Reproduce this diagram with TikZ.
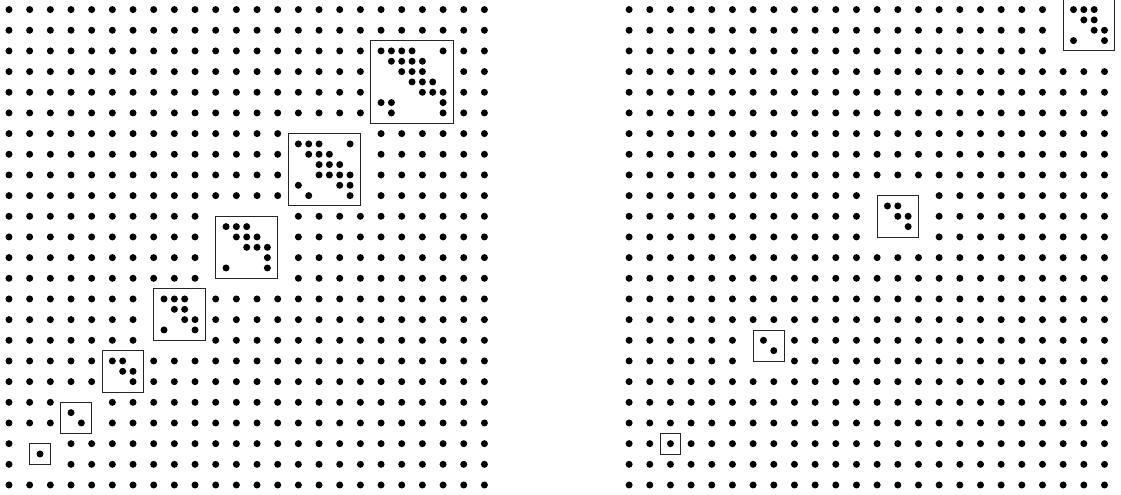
\documentclass[tikz,border=0pt]{standalone}
\usepackage{tikz}
\tikzset{
  griddot/.style={fill=black},
  frame/.style={draw=black!85, line width=0.9pt},
}
\newcommand\leftidx[2]{\pgfmathtruncatemacro#1{(#2>=1)*(#2<=2)*1+(#2>=3)*(#2<=4)*2+(#2>=5)*(#2<=6)*3+(#2>=7)*(#2<=9)*4+(#2>=10)*(#2<=13)*5+(#2>=14)*(#2<=17)*6+(#2>=18)*(#2<=21)*7}}
\newcommand\rightidx[2]{\pgfmathtruncatemacro#1{(#2==2)*1+(#2>=6)*(#2<=7)*2+(#2>=12)*(#2<=14)*3+(#2>=21)*(#2<=23)*4}}
\newcommand\subbox[4]{%
  \draw[frame] (#1,#2) rectangle ++({(#3+1)/2},{(#3+1)/2});
  \foreach \k/\l in {#4} \fill[griddot] ({#1+\k/2},{#2+(#3+1)/2-\l/2}) circle[radius=3.5pt];
}
\begin{document}
\begin{tikzpicture}[x=20.67pt,y=20.67pt]
\useasboundingbox (-0.4354,-0.4838) rectangle (53.798,23.464);
% left grid
\foreach \i in {0,...,23} {
  \foreach \j in {0,...,23} {
    \leftidx\bi\i
    \leftidx\bj\j
    \pgfmathtruncatemacro\skp{(\bi==\bj)*(\bi>0)}
    \ifnum\skp=0 \fill[griddot] (\i,\j) circle[radius=3.5pt];\fi
  }
}
% right grid
\foreach \i in {0,...,23} {
  \foreach \j in {0,...,23} {
    \rightidx\bi\i
    \rightidx\bj\j
    \pgfmathtruncatemacro\skp{(\bi==\bj)*(\bi>0)}
    \ifnum\skp=0 \fill[griddot] ({\i+30},\j) circle[radius=3.5pt];\fi
  }
}
% left boxes
\subbox{1}{1}{1}{1/1}
\subbox{2.5}{2.5}{2}{1/1,2/2}
\subbox{4.5}{4.5}{3}{1/1,2/1,2/2,3/2,3/3}
\subbox{7}{7}{4}{1/1,2/1,3/1,2/2,3/2,3/3,4/3,1/4,4/4}
\subbox{10}{10}{5}{1/1,2/1,3/1,2/2,3/2,4/2,3/3,4/3,5/3,5/4,1/5,5/5}
\subbox{13.5}{13.5}{6}{1/1,2/1,3/1,6/1,2/2,3/2,4/2,3/3,4/3,5/3,3/4,4/4,5/4,6/4,1/5,5/5,6/5,2/6,6/6}
\subbox{17.5}{17.5}{7}{1/1,2/1,3/1,4/1,7/1,2/2,3/2,4/2,5/2,3/3,4/3,5/3,4/4,5/4,6/4,5/5,6/5,7/5,1/6,2/6,7/6,2/7,7/7}
% right boxes
\subbox{31.5}{1.5}{1}{1/1}
\subbox{36}{6}{2}{1/1,2/2}
\subbox{42}{12}{3}{1/1,2/1,2/2,3/2,3/3}
\subbox{51}{21}{4}{1/1,2/1,3/1,2/2,3/2,3/3,4/3,1/4,4/4}
\end{tikzpicture}
\end{document}
